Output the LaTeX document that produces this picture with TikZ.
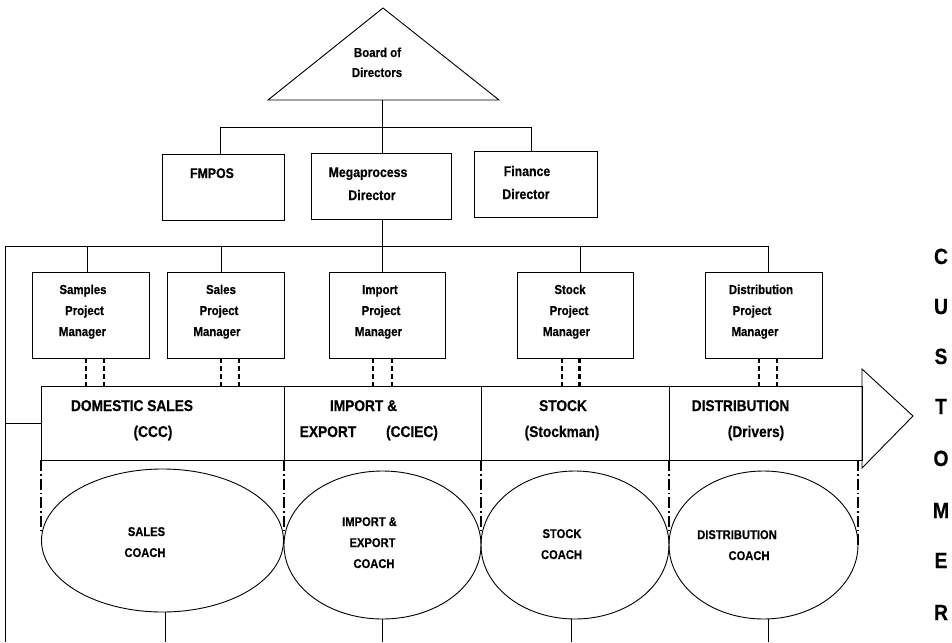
\documentclass[tikz,border=0pt]{standalone}
\usepackage{fontspec}
\setmainfont{Liberation Sans}[FakeStretch=0.88, BoldFeatures={FakeStretch=0.88, FakeBold=0.4}]
\usetikzlibrary{shapes.geometric}
\begin{document}
\begin{tikzpicture}[x=1pt,y=-1pt,
  ln/.style={line width=0.9pt, draw=black},
  box/.style={ln, rectangle, inner sep=0pt},
  oval/.style={ln, ellipse, inner sep=0pt},
  pmdash/.style={line width=2.2pt, dash pattern=on 5pt off 3pt},
  ddot/.style={line width=2pt, dash pattern=on 11pt off 3pt on 1.5pt off 3pt},
  txt/.style={inner sep=0pt, anchor=base, font=\bfseries\fontsize{13}{15}\selectfont},
  big/.style={txt, font=\bfseries\fontsize{14}{16}\selectfont},
  stage/.style={txt, font=\bfseries\fontsize{15.6}{18}\selectfont},
  coach/.style={txt, font=\bfseries\fontsize{12.7}{15}\selectfont},
  cust/.style={txt, font=\bfseries\fontsize{22}{24}\selectfont}]
\useasboundingbox (0,0) rectangle (952,642);

% Board of Directors
\draw[ln] (383,8) -- (499,100) -- (268,100) -- cycle;
\coordinate (boardbase) at (382,100);
\node[txt] (board1) at (377.5,57) {Board of};
\node[txt] (board2) at (377,77) {Directors};

% Directors level
\node[box, minimum width=122pt, minimum height=66pt] (fmpos) at (223,187) {};
\node[box, minimum width=140pt, minimum height=66pt] (mega) at (381,186) {};
\node[box, minimum width=123pt, minimum height=66pt] (fin) at (535.5,184) {};
\node[big] (fmposT) at (212,178) {FMPOS};
\node[big] (mega1) at (368,177) {Megaprocess};
\node[big] (mega2) at (372,200) {Director};
\node[big] (fin1) at (527,176) {Finance};
\node[big] (fin2) at (526,199) {Director};

\coordinate (bar1) at (382,127);
\coordinate (fmposdrop) at ([xshift=-3pt]fmpos.north);
\coordinate (findrop) at ([xshift=-4.5pt]fin.north);
\draw[ln] (boardbase) -- (boardbase |- mega.north);
\draw[ln] (fmposdrop) -- (fmposdrop |- bar1) -- (findrop |- bar1) -- (findrop);

% Project managers
\node[box, minimum width=117pt, minimum height=86pt] (samp) at (90.5,315) {};
\node[box, minimum width=117pt, minimum height=86pt] (sale) at (225.5,315) {};
\node[box, minimum width=116pt, minimum height=86pt] (imp) at (387,315) {};
\node[box, minimum width=116pt, minimum height=86pt] (stk) at (575,315) {};
\node[box, minimum width=117pt, minimum height=86pt] (dist) at (763.5,315) {};

\node[txt] (samp1) at (83,294) {Samples};
\node[txt] (samp2) at (84.5,315) {Project};
\node[txt] (samp3) at (82.5,336) {Manager};
\node[txt] (sale1) at (221,294) {Sales};
\node[txt] (sale2) at (219,315) {Project};
\node[txt] (sale3) at (217,336) {Manager};
\node[txt] (imp1) at (380,294) {Import};
\node[txt] (imp2) at (381,315) {Project};
\node[txt] (imp3) at (378.5,336) {Manager};
\node[txt] (stk1) at (570,294) {Stock};
\node[txt] (stk2) at (569,315) {Project};
\node[txt] (stk3) at (566.5,336) {Manager};
\node[txt] (dist1) at (761,294) {Distribution};
\node[txt] (dist2) at (752,315) {Project};
\node[txt] (dist3) at (755,336) {Manager};

\coordinate (bar2) at (382,246);
\coordinate (lbot) at (5,642);
\coordinate (sampdrop) at ([xshift=-3.5pt]samp.north);
\coordinate (saledrop) at ([xshift=-4.5pt]sale.north);
\coordinate (stkdrop) at ([xshift=5pt]stk.north);
\coordinate (distdrop) at ([xshift=4.5pt]dist.north);
\draw[ln] (mega.south -| boardbase) -- (imp.north -| boardbase);
\draw[ln] (lbot) -- (lbot |- bar2) -- (distdrop |- bar2) -- (distdrop);
\foreach \d in {sampdrop,saledrop,stkdrop}
  \draw[ln] (\d |- bar2) -- (\d);

% Process band
\node[box, minimum width=243pt, minimum height=74pt] (ds) at (162.5,423) {};
\node[box, minimum width=197pt, minimum height=74pt] (ie) at (382.5,423) {};
\node[box, minimum width=188pt, minimum height=74pt] (st) at (575,423) {};
\node[box, minimum width=193pt, minimum height=74pt] (di) at (765.5,423) {};
\draw[ln] (862,369) -- (913,416) -- (862,468) -- cycle;

\node[stage] (ds1) at (132,411) {DOMESTIC SALES};
\node[stage] (ds2) at (153,437) {(CCC)};
\node[stage] (ie1) at (363.5,411) {IMPORT \&};
\node[stage] (ie2) at (328,437) {EXPORT};
\node[stage] (ie3) at (412,437) {(CCIEC)};
\node[stage] (st1) at (563,411) {STOCK};
\node[stage] (st2) at (562,437) {(Stockman)};
\node[stage] (di1) at (740.5,411) {DISTRIBUTION};
\node[stage] (di2) at (756,437) {(Drivers)};

\draw[ln] (ds.west -| lbot) -- (ds.west);

% Links from project managers to the band
\foreach \n/\a/\b in {samp/-4.5/13.5, sale/-4.5/13.5, imp/-14/5, stk/-13/4.5, dist/-4.5/13.5} {
  \path ([xshift=\a pt]\n.south) coordinate (\n-l)
        ([xshift=\b pt]\n.south) coordinate (\n-r);
  \draw[pmdash] (\n-l) -- (\n-l |- ds.north);
  \draw[pmdash] (\n-r) -- (\n-r |- ds.north);
}

% Coaches
\node[oval, minimum width=242pt, minimum height=143pt] (sc) at (162.5,540.5) {};
\node[oval, minimum width=197pt, minimum height=148pt] (ic) at (382.5,545) {};
\node[oval, minimum width=188pt, minimum height=148pt] (stc) at (575,545) {};
\node[oval, minimum width=189pt, minimum height=148pt] (dc) at (763.5,545) {};

\node[coach] (sc1) at (146.5,536) {SALES};
\node[coach] (sc2) at (145,557) {COACH};
\node[coach] (ic1) at (369.5,526) {IMPORT \&};
\node[coach] (ic2) at (372.5,547) {EXPORT};
\node[coach] (ic3) at (374,568) {COACH};
\node[coach] (stc1) at (562,538) {STOCK};
\node[coach] (stc2) at (561.5,559) {COACH};
\node[coach] (dc1) at (737,539) {DISTRIBUTION};
\node[coach] (dc2) at (749,560) {COACH};

% Dash-dot guides between the band and the coaches
\draw[ddot] (ds.south west) -- (ds.south west |- 0,530);
\draw[ddot] (ds.south east) -- (ds.south east |- 0,530);
\draw[ddot] (st.south west) -- (st.south west |- 0,530);
\draw[ddot] (di.south west) -- (di.south west |- 0,530);
\draw[ddot] (dc.east |- di.south) -- (dc.east);

% Lines below the coaches
\coordinate (bot) at (0,642);
\draw[ln] ([xshift=2.5pt]sc.south) -- ([xshift=2.5pt]sc.south |- bot);
\draw[ln] ([xshift=-0.5pt]ic.south) -- ([xshift=-0.5pt]ic.south |- bot);
\draw[ln] ([xshift=-4pt]stc.south) -- ([xshift=-4pt]stc.south |- bot);
\draw[ln] ([xshift=4.5pt]dc.south) -- ([xshift=4.5pt]dc.south |- bot);

% CUSTOMER
\foreach \l/\y [count=\i] in {C/264,U/314,S/364,T/414,O/466,M/518,E/568,R/620}
  \node[cust] (cust\i) at (941,\y) {\l};
\end{tikzpicture}
\end{document}
